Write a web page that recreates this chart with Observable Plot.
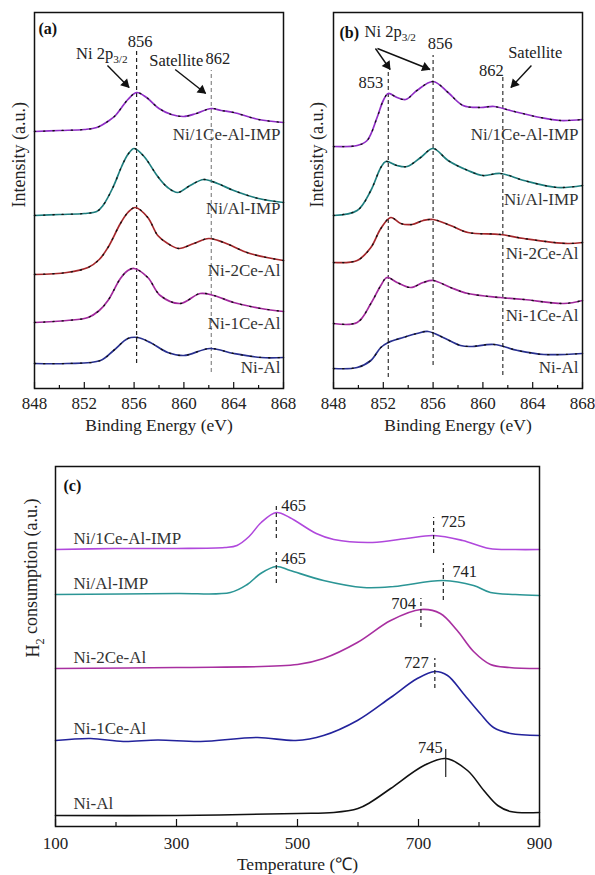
<!DOCTYPE html>
<html>
<head>
<meta charset="utf-8">
<script src="https://cdn.jsdelivr.net/npm/d3@7"></script>
<script src="https://cdn.jsdelivr.net/npm/@observablehq/plot@0.6"></script>
<style>
  html, body { margin: 0; padding: 0; background: #fff; }
  body { width: 595px; height: 875px; position: relative; overflow: hidden; font-family: "Liberation Serif", serif; }
  .panel { position: absolute; }
  #pa { left: 0; top: 0; width: 300px; }
  #pb { left: 290px; top: 0; width: 305px; }
  #pc { left: 0; top: 440px; width: 595px; }
  .panel svg { overflow: visible; font-family: "Liberation Serif", serif !important; }
  .panel svg text { font-family: "Liberation Serif", serif !important; }
</style>
</head>
<body>
<div id="pa" class="panel"></div>
<div id="pb" class="panel"></div>
<div id="pc" class="panel"></div>
<script>
// Samples, top to bottom in every panel
const samples = ["Ni/1Ce-Al-IMP", "Ni/Al-IMP", "Ni-2Ce-Al", "Ni-1Ce-Al", "Ni-Al"];
const xpsColors = ["#8e2dc4", "#1d7d7d", "#a3262a", "#a1289b", "#28308f"];
const tprColors = ["#b048dc", "#2b9595", "#a82fa0", "#23239c", "#111111"];

// Axis ticks
const energyTicks = [848, 852, 856, 860, 864, 868];
const energyMinor = [850, 854, 858, 862, 866];
const tempTicks = [100, 300, 500, 700, 900];
const tempMinor = [200, 400, 600, 800];

// (a) Ni 2p XPS, calcined samples: binding energy (eV) and stacked intensity (a.u.)
const aEV_NiCeIMP = [848, 850, 852, 853, 854, 854.5, 855, 855.5, 856.2, 857, 858, 859, 860, 861, 862.2, 863, 864, 866, 868];
const aI_NiCeIMP  = [257, 258, 259, 261, 268, 273, 281, 289, 296, 291, 280, 274, 272, 275, 280, 278, 276, 269, 266];
const aEV_NiAlIMP = [848, 850, 852, 853, 853.5, 854.3, 855, 855.5, 856, 856.8, 857.9, 858.7, 859.5, 860.5, 861.6, 862.7, 864, 866, 868];
const aI_NiAlIMP  = [173, 174, 175, 177, 183, 201, 222, 234, 240, 232, 212, 201, 196, 203, 209, 205, 198, 190, 186];
const aEV_Ni2Ce   = [848, 850.6, 852.3, 853.2, 853.9, 854.9, 855.5, 856.1, 857.1, 857.9, 858.7, 859.6, 860.8, 862, 863.2, 865.3, 868];
const aI_Ni2Ce    = [114, 116, 121, 129, 141, 165, 176, 181, 171, 153, 145, 140, 145, 150, 146, 135, 128];
const aEV_Ni1Ce   = [848, 850.6, 852.3, 853.2, 853.9, 854.9, 855.5, 856, 857.1, 858.1, 859.7, 861.3, 862.4, 864, 866.2, 868];
const aI_Ni1Ce    = [66, 68, 71, 78, 88, 110, 118, 120, 111, 93, 85, 95, 93, 86, 80, 77];
const aEV_NiAl    = [848, 850.6, 853.3, 854.35, 855.5, 856.3, 857.3, 858.7, 860, 862.1, 864, 866.2, 868];
const aI_NiAl     = [25, 25, 28, 38, 50, 51, 46, 36, 33, 40, 35, 31, 31];

// (b) Ni 2p XPS, reduced samples
const bEV_NiCeIMP = [848, 849.9, 850.7, 851.5, 852, 852.4, 853.1, 853.8, 854.7, 856, 857.2, 858.4, 859.8, 860.9, 862.2, 864.6, 866.2, 868];
const bI_NiCeIMP  = [242, 243, 248, 271, 288, 295, 291, 289, 298, 307, 296, 283, 281, 282, 278, 271, 268, 269];
const bEV_NiAlIMP = [848, 849.9, 851, 851.8, 852.2, 853.1, 853.9, 855, 856, 857.2, 858.8, 860, 861.4, 863.3, 866, 868];
const bI_NiAlIMP  = [173, 178, 198, 221, 227, 223, 222, 231, 240, 228, 218, 213, 215, 208, 201, 203];
const bEV_Ni2Ce   = [848, 849.9, 851, 851.8, 852.6, 853.4, 854.3, 855.2, 856, 857.4, 858.8, 861.4, 863.3, 866.8, 868];
const bI_Ni2Ce    = [126, 128, 141, 160, 171, 165, 164, 168, 169, 163, 156, 154, 150, 145, 146];
const bEV_Ni1Ce   = [848, 849.9, 851, 851.8, 852.3, 853.1, 854.2, 855.2, 856, 857.4, 858.8, 861.4, 863.3, 866.5, 868];
const bI_Ni1Ce    = [65, 66, 85, 103, 111, 106, 101, 106, 108, 101, 95, 91, 89, 85, 88];
const bEV_NiAl    = [848, 849.9, 851, 851.8, 852.4, 853.6, 854.7, 855.6, 856.8, 858.2, 859, 860.9, 862.8, 864.9, 868];
const bI_NiAl     = [20, 21, 28, 41, 46, 51, 55, 57, 51, 43, 42, 44, 38, 34, 35];

// (c) H2-TPR: temperature (°C) and stacked H2 consumption (a.u.)
const cT_NiCeIMP = [100, 200, 300, 380, 400, 420, 440, 465, 487, 531, 560, 624, 680, 725, 773, 817, 860, 900];
const cH_NiCeIMP = [277, 278, 278, 279, 281, 290, 304, 314, 309, 293, 287, 284, 288, 291, 286, 278, 277, 277];
const cT_NiAlIMP = [100, 300, 389, 417, 439, 465, 488, 543, 609, 660, 741, 791, 819, 860, 900];
const cH_NiAlIMP = [232, 233, 234, 242, 253, 260, 256, 246, 239, 240, 246, 241, 234, 232, 231];
const cT_Ni2Ce   = [100, 300, 500, 543, 599, 654, 704, 736, 764, 791, 819, 850, 900];
const cH_Ni2Ce   = [158, 159, 162, 168, 184, 206, 217, 213, 196, 175, 162, 159, 158];
const cT_Ni1Ce   = [100, 158, 212, 269, 340, 434, 497, 543, 599, 654, 698, 727, 748, 774, 802, 824, 852, 900];
const cH_Ni1Ce   = [86, 88, 85, 86.5, 85, 89, 86, 91, 106, 129, 148, 155, 151, 133, 113, 99, 93, 91];
const cT_NiAl    = [100, 300, 500, 560, 600, 620, 654, 709, 745, 781, 808, 831, 852, 900];
const cH_NiAl    = [11, 11, 13, 14, 18, 24, 38, 61, 68, 56, 36, 21, 15, 14];

// Reduction peak maxima (°C) marked in (c)
const tprPeaks = {imp1: [465, 725], imp0: [465, 741], ce2: [704], ce1: [727], al: [745]};

const FONT = "'Liberation Serif', serif";

function rowsOf(name, xs, ys) {
  return xs.map((x, i) => ({name, x, y: ys[i]}));
}

// Replace "_{...}" markup inside text elements with subscript tspans
function subscripts(svg) {
  d3.select(svg).selectAll("text").each(function () {
    const s = this.textContent;
    if (!s.includes("_{")) return;
    const parts = s.split(/_\{([^}]*)\}/);
    const t = d3.select(this);
    t.text(null);
    parts.forEach((p, i) => {
      if (!p) return;
      if (i % 2 === 1) {
        t.append("tspan").attr("dy", "0.35em").attr("font-size", "0.68em").text(p);
        if (i + 1 < parts.length && parts[i + 1]) {
          t.append("tspan").attr("dy", "-0.35em").text(parts[i + 1]);
          parts[i + 1] = "";
        }
      } else {
        t.append("tspan").text(p);
      }
    });
  });
  return svg;
}

function curveMarks(rows, withSpecks, width) {
  const marks = [
    Plot.line(rows, {x: "x", y: "y", z: "name", stroke: "name", strokeWidth: width, curve: "catmull-rom"})
  ];
  if (withSpecks) {
    marks.push(Plot.line(rows, {x: "x", y: "y", z: "name", stroke: "#111", strokeWidth: 1.3,
      strokeDasharray: "1.2,8", curve: "catmull-rom"}));
  }
  return marks;
}

function axisMarks(major, minor, frameH, majorLen, minorLen, pad) {
  return [
    Plot.ruleX(major, {x: d => d, insetTop: frameH - majorLen, stroke: "#111", strokeWidth: 1.2}),
    Plot.ruleX(minor, {x: d => d, insetTop: frameH - minorLen, stroke: "#111", strokeWidth: 1.2}),
    Plot.axisX({ticks: major, tickSize: 0, tickPadding: pad, tickFormat: d => String(d), fontSize: 17, label: null, fill: "#222", fontFamily: FONT}),
    Plot.frame({stroke: "#111", strokeWidth: 1.5})
  ];
}

// Arrows with solid triangular heads; kx, ky are pixels per data unit of the panel
function solidArrows(list, kx, ky) {
  const back = 5;
  const heads = list.map(([x1, y1, x2, y2]) => {
    const sx = (x2 - x1) * kx, sy = -(y2 - y1) * ky;
    const len = Math.hypot(sx, sy);
    const ux = sx / len, uy = sy / len;
    return {x: x2 - ux * back / kx, y: y2 + uy * back / ky, angle: Math.atan2(sy, sx) * 180 / Math.PI + 90};
  });
  return [
    Plot.link(list, {x1: d => d[0], y1: d => d[1], x2: d => d[2], y2: d => d[3], stroke: "#111", strokeWidth: 1.4}),
    Plot.dot(heads, {x: "x", y: "y", rotate: "angle", symbol: "triangle", r: 3.6, fill: "#111", stroke: "none"})
  ];
}

const txt = {fontFamily: FONT, fill: "#222"};

// ---------- (a) ----------
const aRows = [
  ...rowsOf(samples[0], aEV_NiCeIMP, aI_NiCeIMP),
  ...rowsOf(samples[1], aEV_NiAlIMP, aI_NiAlIMP),
  ...rowsOf(samples[2], aEV_Ni2Ce, aI_Ni2Ce),
  ...rowsOf(samples[3], aEV_Ni1Ce, aI_Ni1Ce),
  ...rowsOf(samples[4], aEV_NiAl, aI_NiAl)
];
const aLabelY = [254, 180, 118, 65, 21];

const plotA = Plot.plot({
  width: 300, height: 440,
  marginLeft: 34, marginRight: 17, marginTop: 12, marginBottom: 52,
  x: {domain: [848, 868]},
  y: {domain: [0, 376], axis: null},
  color: {domain: samples, range: xpsColors},
  style: {fontFamily: FONT, fontSize: "16.5px", background: "none", overflow: "visible", color: "#222"},
  marks: [
    Plot.ruleX([856.2], {y1: 25, y2: 338, stroke: "#222", strokeWidth: 1.2, strokeDasharray: "4,3"}),
    Plot.ruleX([862.2], {y1: 16, y2: 318, stroke: "#888", strokeWidth: 1.2, strokeDasharray: "4,3"}),
    ...curveMarks(aRows, true, 1.7),
    Plot.text(samples, {x: 868, y: (d, i) => aLabelY[i], text: d => d, textAnchor: "end", dx: -3, fontSize: 17, ...txt, fill: "#333"}),
    Plot.text(["(a)"], {x: 848, y: 360, textAnchor: "start", dx: 4, fontSize: 16, fontWeight: "bold", ...txt, fill: "#111"}),
    Plot.text(["856"], {x: 856.2, y: 347, dx: 3.5, fontSize: 16.5, ...txt}),
    Plot.text(["Ni 2p_{3/2}"], {x: 856.2, y: 335, textAnchor: "end", dx: -9, fontSize: 16.5, ...txt}),
    Plot.text(["Satellite"], {x: 862.2, y: 328, textAnchor: "end", dx: -8, fontSize: 16.5, ...txt}),
    Plot.text(["862"], {x: 862.2, y: 330, dx: 6.5, fontSize: 16.5, ...txt}),
    ...solidArrows([[853.86, 323, 855.6, 301], [859.3, 319, 861.75, 295]], 249 / 20, 1),
    Plot.text(["Binding Energy (eV)"], {frameAnchor: "bottom", dy: 42, fontSize: 17.5, ...txt}),
    Plot.text(["Intensity (a.u.)"], {frameAnchor: "left", dx: -15, dy: 7, rotate: -90, fontSize: 18, ...txt}),
    ...axisMarks(energyTicks, energyMinor, 376, 6, 3, 8)
  ]
});
document.getElementById("pa").append(subscripts(plotA));

// ---------- (b) ----------
const bRows = [
  ...rowsOf(samples[0], bEV_NiCeIMP, bI_NiCeIMP),
  ...rowsOf(samples[1], bEV_NiAlIMP, bI_NiAlIMP),
  ...rowsOf(samples[2], bEV_Ni2Ce, bI_Ni2Ce),
  ...rowsOf(samples[3], bEV_Ni1Ce, bI_Ni1Ce),
  ...rowsOf(samples[4], bEV_NiAl, bI_NiAl)
];
const bLabelY = [254, 189, 135, 73, 21];

const plotB = Plot.plot({
  width: 305, height: 440,
  marginLeft: 43, marginRight: 13, marginTop: 12, marginBottom: 52,
  x: {domain: [848, 868]},
  y: {domain: [0, 376], axis: null},
  color: {domain: samples, range: xpsColors},
  style: {fontFamily: FONT, fontSize: "16.5px", background: "none", overflow: "visible", color: "#222"},
  marks: [
    Plot.ruleX([852.4], {y1: 11, y2: 316, stroke: "#333", strokeWidth: 1.2, strokeDasharray: "4,3"}),
    Plot.ruleX([856.0], {y1: 23, y2: 333, stroke: "#333", strokeWidth: 1.2, strokeDasharray: "4,3"}),
    Plot.ruleX([861.6], {y1: 13, y2: 313, stroke: "#333", strokeWidth: 1.2, strokeDasharray: "4,3"}),
    ...curveMarks(bRows, true, 1.7),
    Plot.text(samples, {x: 868, y: (d, i) => bLabelY[i], text: d => d, textAnchor: "end", dx: -4, fontSize: 17, ...txt, fill: "#333"}),
    Plot.text(["(b)"], {x: 848, y: 356, textAnchor: "start", dx: 6, fontSize: 16, fontWeight: "bold", ...txt, fill: "#111"}),
    Plot.text(["Ni 2p_{3/2}"], {x: 848, y: 357, textAnchor: "start", dx: 31, fontSize: 16.5, ...txt}),
    Plot.text(["856"], {x: 856.0, y: 345, dx: 7, fontSize: 16.5, ...txt}),
    Plot.text(["853"], {x: 852.4, y: 306, textAnchor: "end", dx: -5, fontSize: 16.5, ...txt}),
    Plot.text(["862"], {x: 861.6, y: 318, textAnchor: "end", dx: 1, fontSize: 16.5, ...txt}),
    Plot.text(["Satellite"], {x: 864.2, y: 336, fontSize: 16.5, ...txt}),
    ...solidArrows([[851.37, 340, 852.55, 319], [851.53, 340, 855.75, 319], [863.9, 323, 862.25, 301]], 249 / 20, 1),
    Plot.text(["Binding Energy (eV)"], {frameAnchor: "bottom", dy: 42, fontSize: 17.5, ...txt}),
    Plot.text(["Intensity (a.u.)"], {frameAnchor: "left", dx: -16, dy: 7, rotate: -90, fontSize: 18, ...txt}),
    ...axisMarks(energyTicks, energyMinor, 376, 6, 3, 8)
  ]
});
document.getElementById("pb").append(subscripts(plotB));

// ---------- (c) ----------
const cRows = [
  ...rowsOf(samples[0], cT_NiCeIMP, cH_NiCeIMP),
  ...rowsOf(samples[1], cT_NiAlIMP, cH_NiAlIMP),
  ...rowsOf(samples[2], cT_Ni2Ce, cH_Ni2Ce),
  ...rowsOf(samples[3], cT_Ni1Ce, cH_Ni1Ce),
  ...rowsOf(samples[4], cT_NiAl, cH_NiAl)
];
const cLabelY = [288, 243, 169, 98, 23];
const dash = {stroke: "#222", strokeWidth: 1.2, strokeDasharray: "4,3"};
const note = {fontSize: 16.5, ...txt};

const plotC = Plot.plot({
  width: 595, height: 435,
  marginLeft: 55, marginRight: 56, marginTop: 26, marginBottom: 49,
  x: {domain: [100, 900]},
  y: {domain: [0, 360], axis: null},
  color: {domain: samples, range: tprColors},
  style: {fontFamily: FONT, fontSize: "16.5px", background: "none", overflow: "visible", color: "#222"},
  marks: [
    ...curveMarks(cRows, false, 1.6),
    // peak markers
    Plot.ruleX([tprPeaks.imp1[0]], {y1: 288, y2: 323, ...dash}),
    Plot.ruleX([tprPeaks.imp1[1]], {y1: 273, y2: 309, ...dash}),
    Plot.ruleX([tprPeaks.imp0[0]], {y1: 243, y2: 274, ...dash}),
    Plot.ruleX([tprPeaks.imp0[1]], {y1: 226, y2: 263, ...dash}),
    Plot.ruleX(tprPeaks.ce2, {y1: 199, y2: 228, ...dash}),
    Plot.ruleX(tprPeaks.ce1, {y1: 138, y2: 168, ...dash}),
    Plot.ruleX(tprPeaks.al, {y1: 49, y2: 77, stroke: "#222", strokeWidth: 1.2}),
    Plot.text([tprPeaks.imp1[0]], {x: d => d, y: 321, text: d => String(d), textAnchor: "start", dx: 5, ...note}),
    Plot.text([tprPeaks.imp1[1]], {x: d => d, y: 305, text: d => String(d), textAnchor: "start", dx: 7, ...note}),
    Plot.text([tprPeaks.imp0[0]], {x: d => d, y: 268, text: d => String(d), textAnchor: "start", dx: 5, ...note}),
    Plot.text([tprPeaks.imp0[1]], {x: d => d, y: 255, text: d => String(d), textAnchor: "start", dx: 9, ...note}),
    Plot.text(tprPeaks.ce2, {x: d => d, y: 223, text: d => String(d), textAnchor: "end", dx: -5, ...note}),
    Plot.text(tprPeaks.ce1, {x: d => d, y: 164, text: d => String(d), textAnchor: "end", dx: -6, ...note}),
    Plot.text(tprPeaks.al, {x: d => d, y: 79, text: d => String(d), textAnchor: "end", dx: -3, ...note}),
    Plot.text(samples, {x: 100, y: (d, i) => cLabelY[i], text: d => d, textAnchor: "start", dx: 18, fontSize: 17, ...txt, fill: "#333"}),
    Plot.text(["(c)"], {x: 100, y: 341, textAnchor: "start", dx: 8, fontSize: 16, fontWeight: "bold", ...txt, fill: "#111"}),
    Plot.text(["Temperature (\u2103)"], {frameAnchor: "bottom", dy: 43, fontSize: 17.5, ...txt}),
    Plot.text(["H_{2} consumption (a.u.)"], {frameAnchor: "left", dx: -22, dy: 11, rotate: -90, fontSize: 18, ...txt}),
    ...axisMarks(tempTicks, tempMinor, 360, 7, 4, 10)
  ]
});
document.getElementById("pc").append(subscripts(plotC));
</script>
</body>
</html>
